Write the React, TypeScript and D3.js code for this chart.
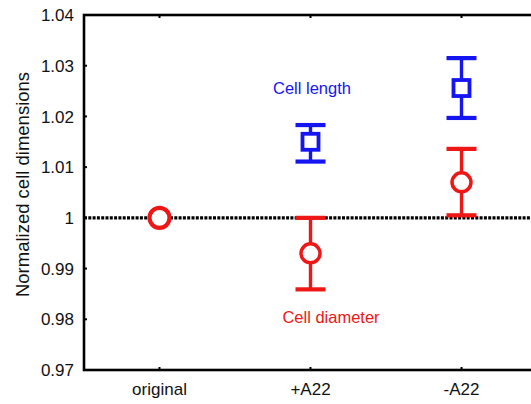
import React, { useEffect, useRef } from 'react';
import * as d3 from 'd3';

// categories along the x axis
const categories = ['original', '+A22', '-A22'];

// cell length (blue squares) - no value for "original"
const lengthMean = [null, 1.015, 1.0256];
const lengthLow = [null, 1.0111, 1.0197];
const lengthHigh = [null, 1.0183, 1.0315];

// cell diameter (red circles)
const diameterMean = [1.0, 0.993, 1.007];
const diameterLow = [1.0, 0.9859, 1.0005];
const diameterHigh = [1.0, 1.0, 1.0136];

const yTicks = [0.97, 0.98, 0.99, 1, 1.01, 1.02, 1.03, 1.04];
const yTickLabels = ['0.97', '0.98', '0.99', '1', '1.01', '1.02', '1.03', '1.04'];

const BLUE = '#1515f2';
const RED = '#ef1616';

const App = () => {
    const ref = useRef<SVGSVGElement>(null);

    const graph = () => {
        const svg = d3.select(ref.current);
        svg.selectAll('*').remove();

        const left = 84;
        const right = 537;
        const top = 15;
        const bottom = 370;

        const x = d3.scaleLinear().domain([0.5, 3.5]).range([left, right]);
        const y = d3.scaleLinear().domain([0.97, 1.04]).range([bottom, top]);

        const font = 'Liberation Sans, Arial, sans-serif';

        // reference line at 1
        svg.append('line')
            .attr('x1', left).attr('x2', right)
            .attr('y1', y(1)).attr('y2', y(1))
            .attr('stroke', '#000')
            .attr('stroke-width', 3.4)
            .attr('stroke-dasharray', '3,1.3');

        // frame
        svg.append('rect')
            .attr('x', left).attr('y', top)
            .attr('width', right - left).attr('height', bottom - top)
            .attr('fill', 'none')
            .attr('stroke', '#000')
            .attr('stroke-width', 2.6);

        // y ticks (inward)
        const yAxis = svg.append('g');
        yAxis.selectAll('line')
            .data(yTicks)
            .enter().append('line')
            .attr('x1', left).attr('x2', left + 3)
            .attr('y1', d => y(d)).attr('y2', d => y(d))
            .attr('stroke', '#000').attr('stroke-width', 2);
        yAxis.selectAll('text')
            .data(yTicks)
            .enter().append('text')
            .attr('x', left - 10)
            .attr('y', d => y(d))
            .attr('dy', '0.36em')
            .attr('text-anchor', 'end')
            .attr('fill', '#111')
            .style('font-family', font)
            .style('font-size', '17px')
            .text((d, i) => yTickLabels[i]);

        // x ticks top and bottom
        const xAxis = svg.append('g');
        categories.forEach((c, i) => {
            const cx = x(i + 1);
            xAxis.append('line')
                .attr('x1', cx).attr('x2', cx)
                .attr('y1', bottom).attr('y2', bottom - 3)
                .attr('stroke', '#000').attr('stroke-width', 2);
            xAxis.append('line')
                .attr('x1', cx).attr('x2', cx)
                .attr('y1', top).attr('y2', top + 3)
                .attr('stroke', '#000').attr('stroke-width', 2);
            xAxis.append('text')
                .attr('x', cx)
                .attr('y', bottom + 25)
                .attr('text-anchor', 'middle')
                .attr('fill', '#111')
                .style('font-family', font)
                .style('font-size', '17px')
                .text(c);
        });

        // y axis title
        svg.append('text')
            .attr('transform', `translate(29, ${(top + bottom) / 2 - 8}) rotate(-90)`)
            .attr('text-anchor', 'middle')
            .attr('fill', '#111')
            .style('font-family', font)
            .style('font-size', '18.5px')
            .text('Normalized cell dimensions');

        const capHalf = 15;

        const errorBar = (g, i, lo, hi, color) => {
            const cx = x(i + 1);
            if (hi - lo <= 0) return;
            g.append('line')
                .attr('x1', cx).attr('x2', cx)
                .attr('y1', y(lo)).attr('y2', y(hi))
                .attr('stroke', color).attr('stroke-width', 3.4);
            [lo, hi].forEach(v => {
                g.append('line')
                    .attr('x1', cx - capHalf).attr('x2', cx + capHalf)
                    .attr('y1', y(v)).attr('y2', y(v))
                    .attr('stroke', color).attr('stroke-width', 4.2);
            });
        };

        // cell length
        const gLength = svg.append('g');
        lengthMean.forEach((m, i) => {
            if (m === null) return;
            errorBar(gLength, i, lengthLow[i], lengthHigh[i], BLUE);
            gLength.append('rect')
                .attr('x', x(i + 1) - 8).attr('y', y(m) - 8)
                .attr('width', 16).attr('height', 16)
                .attr('fill', '#fff')
                .attr('stroke', BLUE).attr('stroke-width', 3.8);
        });

        // cell diameter
        const gDiam = svg.append('g');
        diameterMean.forEach((m, i) => {
            errorBar(gDiam, i, diameterLow[i], diameterHigh[i], RED);
            const plain = diameterHigh[i] - diameterLow[i] <= 0;
            gDiam.append('circle')
                .attr('cx', x(i + 1)).attr('cy', y(m))
                .attr('r', plain ? 10 : 9.5)
                .attr('fill', '#fff')
                .attr('stroke', RED).attr('stroke-width', plain ? 4.2 : 3.5);
        });

        // annotations
        svg.append('text')
            .attr('x', 312).attr('y', 94)
            .attr('text-anchor', 'middle')
            .attr('fill', BLUE)
            .style('font-family', font)
            .style('font-size', '16.5px')
            .text('Cell length');
        svg.append('text')
            .attr('x', 331).attr('y', 323)
            .attr('text-anchor', 'middle')
            .attr('fill', RED)
            .style('font-family', font)
            .style('font-size', '16.5px')
            .text('Cell diameter');
    };

    useEffect(() => graph());

    return (
        <svg ref={ref} width="531" height="404"
            style={{ position: 'absolute', left: 0, top: 0, background: '#fff' }} />
    );
};

export default App;
